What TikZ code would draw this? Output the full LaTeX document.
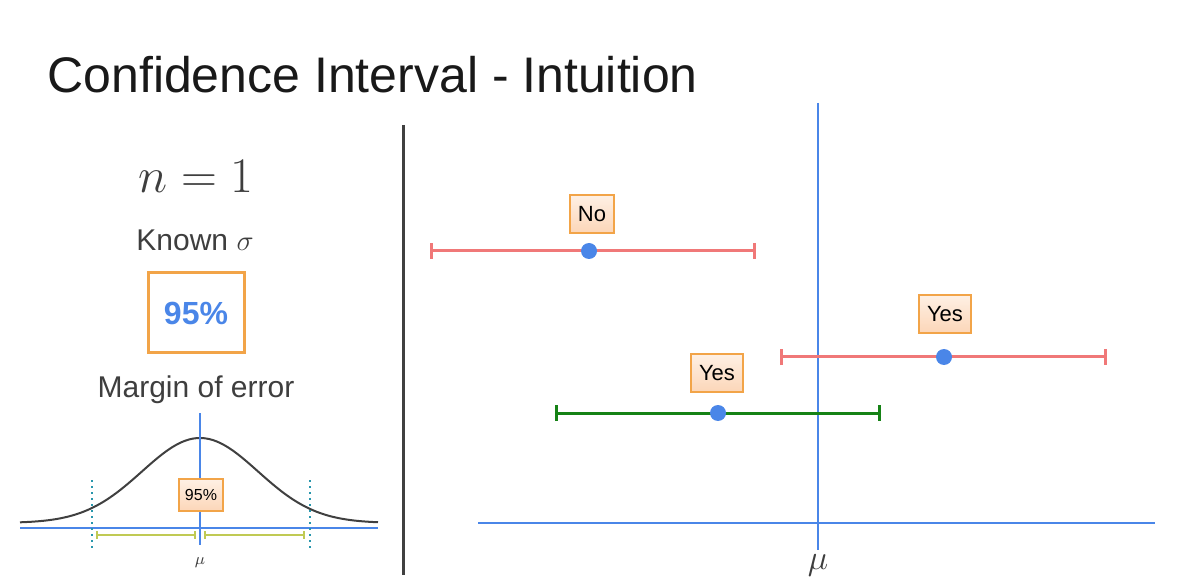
\documentclass[tikz,border=0pt]{standalone}
\usepackage{fontspec}
\setmainfont{Liberation Sans}
\usetikzlibrary{arrows.meta,positioning}
\definecolor{muline}{RGB}{74,134,232}
\definecolor{cired}{RGB}{240,120,120}
\definecolor{cigreen}{RGB}{22,130,22}
\definecolor{boxorange}{RGB}{242,164,72}
\definecolor{boxtop}{RGB}{254,240,228}
\definecolor{boxbot}{RGB}{252,214,184}
\definecolor{txtgray}{RGB}{62,62,62}
\definecolor{barolive}{RGB}{192,202,84}
\definecolor{dotteal}{RGB}{40,150,172}

\begin{document}
\begin{tikzpicture}[x=0.5pt, y=-0.5pt,
    verdict/.style={rectangle, draw=boxorange, line width=0.7pt, top color=boxtop, bottom color=boxbot,
                inner xsep=4pt, minimum height=19pt, font=\fontsize{11}{13}\selectfont},
    meanpt/.style={circle, fill=muline, inner sep=0pt, minimum size=8pt},
    redci/.style={{Bar[width=8pt]}-{Bar[width=8pt]}, cired, line width=1.5pt},
    greenci/.style={{Bar[width=8pt]}-{Bar[width=8pt]}, cigreen, line width=1.5pt},
    axis/.style={muline, line width=1.4pt}]
\useasboundingbox (0,0) rectangle (1189,588);
% title
\node[anchor=base west, inner sep=0pt, font=\fontsize{25}{30}\selectfont, text=black!90] (title) at (47,93) {Confidence Interval - Intuition};
\draw[black!75, line width=1.5pt] (403,125) -- (403,575);

% left panel
\node[text=txtgray, font=\fontsize{25.5}{30}\selectfont] (nval) at (196,176) {$n = 1$};
\node[text=txtgray, font=\fontsize{15}{18}\selectfont] (known) at (195,240) {Known $\sigma$};
\node[draw=boxorange, line width=1.5pt, minimum width=48pt, minimum height=40pt,
      text=muline, font=\bfseries\fontsize{16}{19}\selectfont] (conf) at (196,313) {95\%};
\node[text=txtgray, font=\fontsize{15}{18}\selectfont] (moe) at (196,390) {Margin of error};

% bell curve
\coordinate (bl) at (20,528);
\coordinate (br) at (378,528);
\coordinate (ctop) at (200,413);
\coordinate (cbot) at (200,545);
\draw[black!75, line width=1pt] plot[domain=20:378, samples=90] (\x, {523 - 85*exp(-((\x-200)/58)^2/2)});
\draw[axis, line width=1pt] (bl) -- (br);
\draw[axis, line width=1pt] (ctop) -- (cbot);
\draw[dotteal, line width=1pt, dotted] (92,480) -- (92,548);
\draw[dotteal, line width=1pt, dotted] (310,480) -- (310,548);
\coordinate (lm1) at (96,535);
\coordinate (lm2) at (196,535);
\coordinate (rm1) at (204,535);
\coordinate (rm2) at (305,535);
\draw[{Bar[width=4pt]}-{Bar[width=4pt]}, barolive, line width=1pt] (lm1) -- (lm2);
\draw[{Bar[width=4pt]}-{Bar[width=4pt]}, barolive, line width=1pt] (rm1) -- (rm2);
\node[verdict, inner xsep=3pt, minimum height=16pt, font=\fontsize{8}{10}\selectfont] (small) at (201,495) {95\%};
\node[text=txtgray, font=\fontsize{8}{10}\selectfont] (mus) at (200,563) {$\mu$};

% right panel
\coordinate (vtop) at (818,103);
\coordinate (vbot) at (818,550);
\coordinate (hl) at (478,523);
\coordinate (hr) at (1155,523);
\draw[axis] (vtop) -- (vbot);
\draw[axis] (hl) -- (hr);
\node[text=txtgray, font=\fontsize{16}{19}\selectfont] (mub) at (818,565) {$\mu$};

% intervals
\coordinate (a1) at (430,251); \coordinate (a2) at (756,251);
\coordinate (b1) at (780,357); \coordinate (b2) at (1107,357);
\coordinate (c1) at (555,413); \coordinate (c2) at (881,413);
\draw[redci] (a1) -- (a2);
\draw[redci] (b1) -- (b2);
\draw[greenci] (c1) -- (c2);
\node[meanpt] (ma) at (589,251) {};
\node[meanpt] (mb) at (944,357) {};
\node[meanpt] (mc) at (718,413) {};
\node[verdict] (va) at (592,214) {No};
\node[verdict] (vb) at (945,314) {Yes};
\node[verdict] (vc) at (717,373) {Yes};
\end{tikzpicture}
\end{document}
